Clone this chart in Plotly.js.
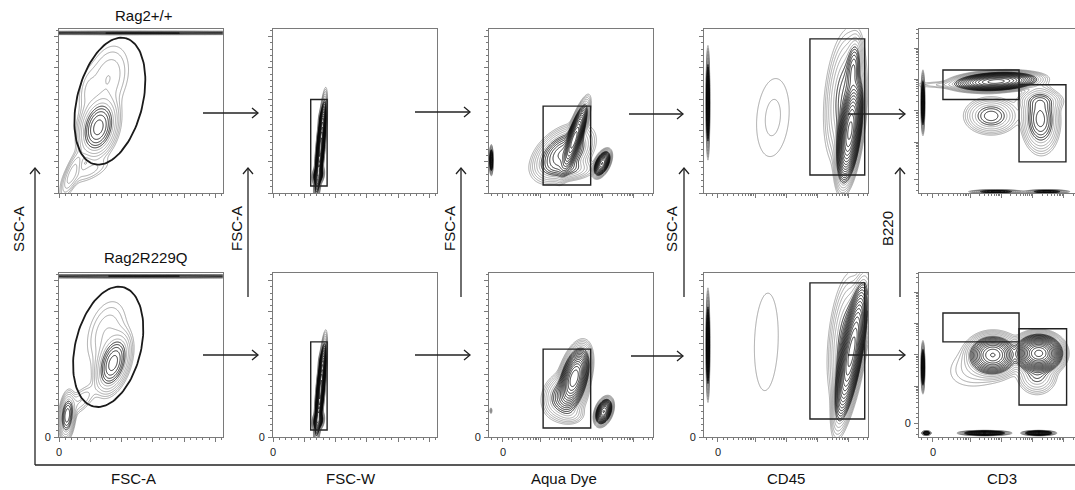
<!DOCTYPE html>
<html><head><meta charset="utf-8">
<script src="https://cdn.plot.ly/plotly-3.0.1.min.js"></script>
<style>html,body{margin:0;padding:0;background:#fff}#chart{width:1075px;height:490px}</style>
</head><body><div id="chart"></div>
<script>
// ================= DATA (display units 0-100 per panel) =================
const rowTitles = ['Rag2+/+', 'Rag2R229Q'];
const xAxisLabels = ['FSC-A', 'FSC-W', 'Aqua Dye', 'CD45', 'CD3'];
const yAxisLabels = ['SSC-A', 'FSC-A', 'FSC-A', 'SSC-A', 'B220'];
const xScaleKind = ['lin', 'lin', 'log', 'log', 'log'];
const yScaleKind = ['lin', 'lin', 'lin', 'lin', 'log'];
const zeroLabel = '0';

// populations: [centerX, centerY, sigmaMajor, sigmaMinor, angleDeg, weight]
const popFscSscWT = [[52, 97.6, 70, 0.45, 0, 0.2], [24, 40, 8, 4.8, 75, 0.5], [30, 70, 12, 7, 75, 0.04], [17, 62, 8, 3, 80, 0.02], [8, 12, 8, 2.2, 68, 0.08], [18, 13, 8, 3, 25, 0.03]];
const popFscSscRQ = [[52, 98, 70, 0.45, 0, 0.2], [33, 45, 8, 4, 72, 0.5], [29, 63, 12, 6.5, 75, 0.04], [5, 13, 6, 2, 85, 0.4], [13, 22, 7, 3, 45, 0.04]];
const popSingletWT = [[29, 28, 10, 0.8, 85, 8], [27.6, 11, 2.2, 1.2, 80, 1.5], [30.3, 45, 2.5, 0.9, 85, 0.6]];
const popSingletRQ = [[29, 29, 10, 0.8, 85, 8], [27.6, 10, 2.2, 1.2, 80, 1.5], [30.3, 46, 2.5, 0.9, 85, 0.6]];
const popAquaWT = [[52, 33, 8, 1.6, 72, 6], [45, 24, 8, 5, 40, 0.8], [47, 15, 7, 3, 0, 0.2], [69, 18, 3, 1.5, 65, 4], [1.4, 20, 3.1, 0.4, 90, 1.2]];
const popAquaRQ = [[52, 36, 7, 3, 75, 5], [46, 25, 6, 5, 60, 0.4], [50, 14, 4, 3, 0, 0.06], [70, 15.5, 3, 1.7, 70, 4], [1.2, 16, 1.2, 0.4, 90, 0.03]];
const popCD45WT = [[89, 38, 11, 2.4, 83, 10], [86, 58, 17, 5, 85, 0.25], [91, 75, 8, 2, 85, 0.5], [42, 46, 22, 9, 85, 0.018], [2.4, 55, 11.3, 0.4, 90, 1.2]];
const popCD45RQ = [[90, 52, 15, 2.4, 80, 8], [87, 58, 17, 4.5, 85, 0.25], [38, 58, 33, 8, 88, 0.015], [2.4, 56, 11.3, 0.4, 90, 1.2]];
const popCD3WT = [[47, 68, 9, 2, 3, 6], [20, 66, 14, 1.2, 0, 0.03], [44, 47, 6.5, 4.5, 0, 0.3], [74, 45, 8, 4.5, 92, 0.5], [74, 56, 6, 3, 0, 0.15], [2.4, 55, 6.5, 0.4, 90, 1.2], [47, 0.8, 6, 0.45, 0, 0.5], [78, 0.8, 5, 0.45, 0, 0.5]];
const popCD3RQ = [[45, 50, 5.5, 4.5, 0, 3], [40, 45, 12, 7, 20, 0.05], [73, 51, 5, 4, 0, 10], [72, 38, 5, 5, 0, 0.2], [2.4, 42.5, 5.3, 0.4, 90, 1.2], [4.5, 2.4, 1, 0.5, 0, 1], [40, 2.4, 5, 0.5, 0, 3], [73, 2.4, 3.3, 0.5, 0, 3]];

// gates: ellipse [cx, cy, semiMajor, semiMinor, angleDeg]; rect [x0, x1, y0, y1]
const lymphGateWT = [31, 56, 39.6, 20, 76];
const lymphGateRQ = [30, 55, 37.5, 20, 76];
const singletGateWT = [23, 33, 4.3, 57];
const singletGateRQ = [23, 33, 4.3, 58];
const liveGateWT = [33, 62, 4.9, 53];
const liveGateRQ = [33, 62, 5.5, 53.6];
const cd45GateWT = [64.6, 98, 11, 94];
const cd45GateRQ = [64.6, 98, 11, 94];
const bGateWT = [14.6, 61, 57, 75];
const tGateWT = [61, 89.6, 19, 66];
const bGateRQ = [14.6, 61, 58, 75.6];
const tGateRQ = [61, 90, 19.5, 66];

// axis tick structure
const linMajorStep = 50000, linMinorStep = 10000, linFullScale = 262144;
const logZeroPos = 8.5, logDecadePos = [31.1, 50.2, 69.3, 88.4], logDecadeWidth = 19.1;
const logLinearRegionTicks = [1.8, 5.2, 11.8, 14.6];

// ================= BUILD =================
const W = 1075, H = 490;
const px = v => v / W, py = v => 1 - v / H;
const colPx = [[59, 223], [273, 437], [489, 653], [704, 868], [919, 1075]];
const rowPx = [[29, 193], [273, 437]];
const panels = [
  [popFscSscWT, popSingletWT, popAquaWT, popCD45WT, popCD3WT],
  [popFscSscRQ, popSingletRQ, popAquaRQ, popCD45RQ, popCD3RQ]
];
const rectGates = [
  [[], [singletGateWT], [liveGateWT], [cd45GateWT], [bGateWT, tGateWT]],
  [[], [singletGateRQ], [liveGateRQ], [cd45GateRQ], [bGateRQ, tGateRQ]]
];
const ellipseGates = [lymphGateWT, lymphGateRQ];

function density(blobs, x, y) {
  let s = 0;
  for (const b of blobs) {
    const t = b[4] * Math.PI / 180;
    const dx = x - b[0], dy = y - b[1];
    const u = dx * Math.cos(t) + dy * Math.sin(t);
    const v = -dx * Math.sin(t) + dy * Math.cos(t);
    s += b[5] * Math.exp(-0.5 * (u * u / (b[2] * b[2]) + v * v / (b[3] * b[3])));
  }
  return s;
}
const grid = [];
for (let g = 0; g <= 100.0001; g += 0.3) grid.push(+g.toFixed(2));

function linTicks() {
  const major = [], minor = [];
  for (let v = 0; v <= linFullScale; v += linMinorStep) {
    const p = v / linFullScale * 100;
    if (v % linMajorStep === 0) major.push(p); else minor.push(p);
  }
  return {major, minor};
}
function logTicks() {
  const major = [logZeroPos].concat(logDecadePos);
  const minor = logLinearRegionTicks.slice();
  logDecadePos.forEach(d => { for (let m = 2; m <= 9; m++) minor.push(d - logDecadeWidth * (1 - Math.log10(m))); });
  const last = logDecadePos[logDecadePos.length - 1];
  for (let m = 2; m <= 9; m++) { const p = last + logDecadeWidth * Math.log10(m); if (p < 100) minor.push(p); }
  return {major, minor};
}

const data = [], layout = {
  width: W, height: H, margin: {l: 0, r: 0, t: 0, b: 0},
  paper_bgcolor: '#fff', plot_bgcolor: '#fff', showlegend: false,
  font: {family: 'Liberation Sans, Arial, sans-serif', color: '#111'},
  shapes: [], annotations: []
};
const axColor = '#7a7a7a';
let idx = 0;
for (let r = 0; r < 2; r++) {
  for (let c = 0; c < 5; c++) {
    idx++;
    const xa = 'xaxis' + (idx === 1 ? '' : idx), ya = 'yaxis' + (idx === 1 ? '' : idx);
    const xr = 'x' + (idx === 1 ? '' : idx), yr = 'y' + (idx === 1 ? '' : idx);
    const xt = xScaleKind[c] === 'lin' ? linTicks() : logTicks();
    const yt = yScaleKind[c] === 'lin' ? linTicks() : logTicks();
    const xZero = xScaleKind[c] === 'lin' ? 0 : logZeroPos;
    const yZero = yScaleKind[c] === 'lin' ? 0 : logZeroPos;
    const xRangeMax = (colPx[c][1] - colPx[c][0]) / 1.64;
    const common = {
      showline: true, linecolor: axColor, linewidth: 1, showgrid: false, zeroline: false,
      ticks: 'outside', ticklen: 4, tickwidth: 1, tickcolor: axColor, tickmode: 'array',
      tickfont: {size: 11, color: '#222'}, fixedrange: true, automargin: false
    };
    layout[xa] = Object.assign({}, common, {
      domain: [px(colPx[c][0]), px(colPx[c][1])], range: [0, Math.min(100, xRangeMax)], anchor: yr, mirror: true,
      tickvals: xt.major, ticktext: xt.major.map(v => (r === 1 && v === xZero) ? zeroLabel : ''),
      minor: {ticks: 'outside', ticklen: 2, tickwidth: 1, tickcolor: axColor, tickmode: 'array', tickvals: xt.minor, showgrid: false},
      ticklabelstandoff: 1
    });
    layout[ya] = Object.assign({}, common, {
      domain: [py(rowPx[r][1]), py(rowPx[r][0])], range: [0, 100], anchor: xr, mirror: c < 4,
      tickvals: yt.major, ticktext: yt.major.map(v => (r === 1 && v === yZero) ? zeroLabel : ''),
      minor: {ticks: 'outside', ticklen: 2, tickwidth: 1, tickcolor: axColor, tickmode: 'array', tickvals: yt.minor, showgrid: false},
      ticklabelstandoff: 1
    });
    // density contours: outer (light) and inner (dark) probability levels
    const blobs = panels[r][c];
    const z = grid.map(y => grid.map(x => Math.log10(Math.max(density(blobs, x, y), 1e-6))));
    data.push({
      type: 'contour', x: grid, y: grid, z: z, xaxis: xr, yaxis: yr,
      contours: {coloring: 'none', start: -2, end: -1.0, size: 0.2},
      line: {color: '#707070', width: 0.6, smoothing: 1}, showscale: false, hoverinfo: 'skip'
    });
    data.push({
      type: 'contour', x: grid, y: grid, z: z, xaxis: xr, yaxis: yr,
      contours: {coloring: 'none', start: -0.85, end: 1.2, size: 0.12},
      line: {color: '#0a0a0a', width: 0.85, smoothing: 1}, showscale: false, hoverinfo: 'skip'
    });
    rectGates[r][c].forEach(g => layout.shapes.push({
      type: 'rect', xref: xr, yref: yr, x0: g[0], x1: g[1], y0: g[2], y1: g[3],
      line: {color: '#222', width: 1.4}
    }));
    if (c === 0) {
      const e = ellipseGates[r], t = e[4] * Math.PI / 180, ex = [], ey = [];
      for (let k = 0; k <= 120; k++) {
        const a = k / 120 * 2 * Math.PI;
        const u = e[2] * Math.cos(a), v = e[3] * Math.sin(a);
        ex.push(e[0] + u * Math.cos(t) - v * Math.sin(t));
        ey.push(e[1] + u * Math.sin(t) + v * Math.cos(t));
      }
      data.push({type: 'scatter', mode: 'lines', x: ex, y: ey, xaxis: xr, yaxis: yr,
        line: {color: '#1a1a1a', width: 1.8}, hoverinfo: 'skip'});
    }
  }
}

// ---- arrows & frame lines (decorations, pixel positions) ----
const lc = '#222';
function addLine(x0, y0, x1, y1) {
  layout.shapes.push({type: 'line', xref: 'paper', yref: 'paper', x0: px(x0), y0: py(y0), x1: px(x1), y1: py(y1), line: {color: lc, width: 1.3}});
}
function chevron(pts) {
  layout.shapes.push({type: 'path', xref: 'paper', yref: 'paper',
    path: 'M' + pts.map(p => px(p[0]) + ',' + py(p[1])).join(' L'), line: {color: lc, width: 1.3}});
}
const hArrows = [[203, 258, 113], [203, 258, 355], [415, 470, 112], [415, 470, 355], [629, 683, 114], [631, 683, 356], [848, 905, 114], [848, 905, 355]];
hArrows.forEach(a => { addLine(a[0], a[2], a[1], a[2]); chevron([[a[1] - 6, a[2] - 5], [a[1], a[2]], [a[1] - 6, a[2] + 5]]); });
const vArrows = [[35, 465, 168], [248, 297, 168], [461, 297, 168], [684, 297, 168], [900, 297, 168]];
vArrows.forEach(a => { addLine(a[0], a[1], a[0], a[2]); chevron([[a[0] - 5, a[2] + 6], [a[0], a[2]], [a[0] + 5, a[2] + 6]]); });
addLine(35, 465, 1075, 465);

// ---- texts ----
const fnt = {size: 15, family: 'Liberation Sans, Arial, sans-serif', color: '#111'};
function addText(t, x, y, angle) {
  layout.annotations.push({text: t, x: px(x), y: py(y), xref: 'paper', yref: 'paper', showarrow: false,
    xanchor: 'center', yanchor: 'middle', textangle: angle || 0, font: fnt});
}
addText(rowTitles[0], 144, 15);
addText(rowTitles[1], 145, 257);
const bottomLabelX = [133, 351, 564, 786, 1002];
xAxisLabels.forEach((t, i) => addText(t, bottomLabelX[i], 478));
const sideLabelX = [18, 236, 449, 671, 887];
yAxisLabels.forEach((t, i) => addText(t, sideLabelX[i], 229, -90));

Plotly.newPlot('chart', data, layout, {staticPlot: true, displayModeBar: false});
</script>
</body></html>
